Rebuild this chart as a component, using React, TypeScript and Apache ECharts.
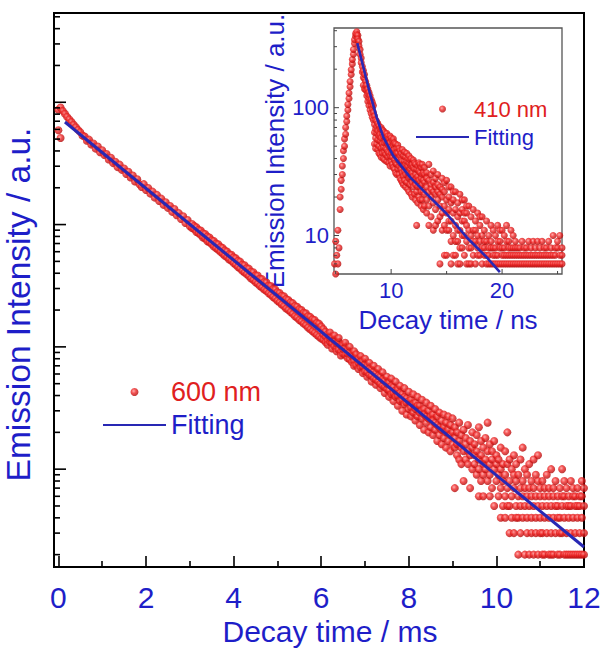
import React, { useEffect, useRef } from 'react';
import * as echarts from 'echarts';

// ---------- main decay (600 nm), time in ms ----------
const mainTimes = [
  0, 0.05, 0.1, 0.15, 0.2, 0.25, 0.3, 0.35, 0.4, 0.45, 0.5, 0.55, 0.6, 0.65, 0.7, 0.75, 0.8, 0.85, 0.9, 0.95,
  1, 1.05, 1.1, 1.15, 1.2, 1.25, 1.3, 1.35, 1.4, 1.45, 1.5, 1.55, 1.6, 1.65, 1.7, 1.75, 1.8, 1.85, 1.9, 1.95,
  2, 2.05, 2.1, 2.15, 2.2, 2.25, 2.3, 2.35, 2.4, 2.45, 2.5, 2.55, 2.6, 2.65, 2.7, 2.75, 2.8, 2.85, 2.9, 2.95,
  3, 3.05, 3.1, 3.15, 3.2, 3.25, 3.3, 3.35, 3.4, 3.45, 3.5, 3.55, 3.6, 3.65, 3.7, 3.75, 3.8, 3.85, 3.9, 3.95,
  4, 4.05, 4.1, 4.15, 4.2, 4.25, 4.3, 4.35, 4.4, 4.45, 4.5, 4.55, 4.6, 4.65, 4.7, 4.75, 4.8, 4.85, 4.9, 4.95,
  5, 5.05, 5.1, 5.15, 5.2, 5.25, 5.3, 5.35, 5.4, 5.45, 5.5, 5.55, 5.6, 5.65, 5.7, 5.75, 5.8, 5.85, 5.9, 5.95,
  6, 6.05, 6.1, 6.15, 6.2, 6.25, 6.3, 6.35, 6.4, 6.45, 6.5, 6.55, 6.6, 6.65, 6.7, 6.75, 6.8, 6.85, 6.9, 6.95,
  7, 7.05, 7.1, 7.15, 7.2, 7.25, 7.3, 7.35, 7.4, 7.45, 7.5, 7.55, 7.6, 7.65, 7.7, 7.75, 7.8, 7.85, 7.9, 7.95,
  8, 8.05, 8.1, 8.15, 8.2, 8.25, 8.3, 8.35, 8.4, 8.45, 8.5, 8.55, 8.6, 8.65, 8.7, 8.75, 8.8, 8.85, 8.9, 8.95,
  9, 9.05, 9.1, 9.15, 9.2, 9.25, 9.3, 9.35, 9.4, 9.45, 9.5, 9.55, 9.6, 9.65, 9.7, 9.75, 9.8, 9.85, 9.9, 9.95,
  10, 10.05, 10.1, 10.15, 10.2, 10.25, 10.3, 10.35, 10.4, 10.45, 10.5, 10.55, 10.6, 10.65, 10.7, 10.75, 10.8, 10.85, 10.9, 10.95,
  11, 11.05, 11.1, 11.15, 11.2, 11.25, 11.3, 11.35, 11.4, 11.45, 11.5, 11.55, 11.6, 11.65, 11.7, 11.75, 11.8, 11.85, 11.9, 11.95,
  12,
];
const mainCounts: number[][] = [
  [8700, 5900], [9050, 5100], [8500], [8050], [7600], [7250], [6900], [6550], [6250], [5950],
  [5700], [5350], [5250], [4850], [4950], [4520], [4600], [4180], [4350], [3900],
  [4050], [3700], [3780], [3400], [3520], [3180], [3260], [2950], [3090], [2800],
  [2870], [2590], [2700], [2430], [2520], [2250], [2350], [2140], [2030], [2140],
  [1920], [1990], [1790], [1860], [1660], [1750], [1560], [1630], [1450], [1520],
  [1370], [1420], [1270], [1340], [1190], [1240], [1110], [1170], [1030], [1090],
  [970], [1010, 935], [975, 918], [950, 870], [905, 850], [895, 820], [850, 785], [838, 770], [800, 730], [785, 715],
  [745, 690], [735, 662], [700, 640], [690, 622], [655, 598], [645, 578], [615, 556], [602, 540], [572, 518], [566, 505],
  [540, 484], [530, 468], [505, 450], [498, 436], [470, 418], [465, 405], [440, 392], [436, 378], [412, 362], [408, 352],
  [384, 338], [383, 328], [360, 315], [358, 305], [338, 294], [336, 286], [316, 274], [315, 266], [296, 256], [295, 248],
  [280, 238], [276, 231], [262, 222], [259, 215], [246, 206], [242, 200], [231, 193], [228, 186], [216, 178], [213, 173],
  [203, 166], [200, 161], [190, 155], [188, 150], [178, 144], [176, 139], [168, 134], [166, 130], [157, 125], [155, 121],
  [147, 117], [140, 125, 114], [121, 133, 109], [112, 127, 104], [131, 110, 118], [106, 119, 97], [113, 124, 101], [98, 107, 92], [110, 95, 118], [91, 102, 85],
  [104, 88, 96], [86, 99, 108], [94, 81, 88], [79, 91, 100], [88, 75, 84], [92, 77, 70], [71, 82, 87], [80, 66, 74], [68, 84, 75], [76, 61, 69],
  [63, 72, 80], [70, 57, 62], [59, 74, 66], [65, 52, 58], [55, 63, 70], [61, 49, 54], [52, 66, 58], [57, 46, 50], [48, 62, 54], [53, 42, 47],
  [45, 57, 50], [51, 39, 44], [41, 55, 48], [47, 36, 42], [39, 52, 44], [45, 33, 40], [36, 48, 42], [41, 30, 37], [34, 46, 39], [38, 28, 35],
  [31, 43, 36], [37, 27, 32], [29, 41, 34], [35, 25, 31], [27, 39, 33], [33, 23, 29], [26, 37, 30], [31, 21, 28], [24, 35, 27], [30, 20, 26],
  [22, 33, 27], [28, 19, 25], [21, 31, 24], [27, 17, 23], [19, 29, 22], [25, 16, 21], [18, 28, 22], [24, 15, 20], [17, 27, 21], [23, 14, 19],
  [16, 26, 20], [22, 7, 15, 18], [20, 13, 16], [24, 12, 17], [19, 11, 15], [21, 8, 14], [18, 12, 16], [23, 11, 14], [17, 7, 13], [20, 10, 15],
  [16, 11, 13], [19, 9, 14], [22, 10, 12, 6], [17, 8, 13], [15, 9, 11, 6], [18, 10, 12], [24, 8, 14], [16, 9, 11, 6], [14, 7, 12], [17, 5, 10],
  [13, 8, 11], [12, 6, 9], [15, 7, 10, 4], [11, 5, 8], [14, 6, 9, 4], [20, 7, 11, 5], [12, 3, 8, 5], [10, 6, 4], [13, 7, 9, 3], [11, 5, 8, 4],
  [9, 6, 2, 4], [12, 3, 7, 5], [15, 6, 8, 4], [10, 5, 2, 7], [9, 3, 6, 4], [11, 5, 7, 2], [8, 4, 6, 3], [12, 5, 7, 2], [9, 3, 6, 4], [13, 5, 8, 2],
  [7, 4, 6, 3], [8, 2, 5, 3], [6, 4, 2, 7], [9, 3, 5], [7, 2, 4, 6], [10, 3, 5, 2], [6, 4, 7, 2], [8, 3, 5], [5, 2, 6, 4], [7, 3, 4, 2],
  [10, 5, 3, 6], [6, 2, 4, 8], [7, 3, 5, 2], [5, 4, 6, 2], [8, 3, 5, 2], [6, 2, 4, 7], [5, 3, 6, 2], [7, 4, 2, 5], [6, 3, 5, 2], [8, 2, 4, 6],
  [5, 3, 7, 2],
];
const mainFitTimes = [0.15, 12];
const mainFitCounts = [6895, 2.31];

// ---------- inset decay (410 nm), time in ns ----------
const insetTimes = [
  4.9, 5.0, 5.1, 5.2, 5.3, 5.4, 5.5, 5.6, 5.7, 5.8, 5.9, 6.0, 6.1, 6.2, 6.3, 6.4, 6.5, 6.6, 6.7, 6.8, 6.9, 7.0, 7.1, 7.2, 7.3, 7.4,
  7.5, 7.6, 7.7, 7.8, 7.9, 8.0, 8.1, 8.2, 8.3, 8.4, 8.5, 8.6, 8.7, 8.8, 8.9, 9.0, 9.1, 9.2, 9.3, 9.4, 9.5, 9.6, 9.7, 9.8, 9.9,
  10.0, 10.1, 10.2, 10.3, 10.4, 10.5, 10.6, 10.7, 10.8, 10.9, 11.0, 11.1, 11.2, 11.3, 11.4, 11.5, 11.6, 11.7, 11.8, 11.9,
  12.0, 12.1, 12.2, 12.3, 12.4, 12.5, 12.6, 12.7, 12.8, 12.9,
  13.0, 13.2, 13.4, 13.6, 13.8, 14.0, 14.2, 14.4, 14.6, 14.8, 15.0, 15.2, 15.4, 15.6, 15.8, 16.0, 16.2, 16.4, 16.6, 16.8,
  17.0, 17.2, 17.4, 17.6, 17.8, 18.0, 18.2, 18.4, 18.6, 18.8, 19.0, 19.2, 19.4, 19.6, 19.8, 20.0, 20.2, 20.4, 20.6, 20.8,
  21.0, 21.2, 21.4, 21.6, 21.8, 22.0, 22.2, 22.4, 22.6, 22.8, 23.0, 23.2, 23.4, 23.6, 23.8, 24.0, 24.2, 24.4, 24.6, 24.8,
  25.0, 25.2, 25.4,
];
const insetCounts: number[][] = [
  [6], [9, 5], [7], [11, 6], [8], [16, 20], [23, 27], [30, 35], [40, 46], [50, 57], [62, 70], [78, 86], [96, 106],
  [118, 130], [146, 160], [182, 198], [220, 238], [262, 285], [318, 340], [362, 380], [392, 372], [368, 345], [330, 305],
  [285, 262], [245, 225], [210, 190],
  [195, 172, 150], [168, 182, 140], [160, 138, 148], [150, 124, 136], [128, 140, 112], [132, 104, 118], [112, 124, 96],
  [116, 90, 104], [98, 110, 84], [104, 80, 92],
  [86, 64, 74, 52], [58, 80, 68, 48], [78, 52, 63, 71], [47, 66, 75, 56], [72, 50, 60, 44],
  [55, 68, 43, 62], [70, 48, 58, 41], [44, 63, 52, 67], [60, 40, 49, 66], [53, 64, 39, 45],
  [62, 43, 55, 48], [38, 58, 47, 63], [52, 41, 60, 45], [57, 37, 50, 44], [42, 60, 35, 53],
  [49, 38, 58, 44], [55, 36, 46, 41], [34, 51, 44, 57], [47, 39, 53, 33], [52, 31, 42, 37],
  [36, 48, 30, 44], [44, 51, 33, 39], [30, 40, 48, 35], [46, 28, 37, 42], [33, 44, 27, 39],
  [38, 26, 47, 31], [29, 42, 35, 25], [45, 32, 27, 38], [24, 36, 41, 30], [34, 44, 26, 38],
  [40, 23, 31, 35], [28, 37, 22, 42], [33, 25, 39, 29], [40, 21, 30, 35], [26, 36, 20, 31],
  [39, 24, 29, 34], [21, 33, 27, 37], [30, 19, 36, 25], [12, 28, 33, 22], [35, 24, 18, 29],
  [27, 37, 20, 32], [19, 31, 36, 24], [34, 22, 28, 17], [25, 36, 19, 30], [31, 16, 27, 22],
  [34, 17, 26, 21, 30], [19, 31, 24, 15, 28], [36, 22, 17, 27, 12], [25, 14, 30, 20, 23], [32, 18, 11, 26, 22],
  [16, 28, 21, 12, 24], [30, 13, 19, 25, 22], [17, 24, 6, 21, 14], [28, 15, 20, 11, 23], [12, 22, 17, 7, 26],
  [27, 15, 7, 19, 11], [20, 11, 16, 24, 13], [13, 24, 6, 18, 9], [19, 10, 15, 7, 22], [22, 12, 7, 16, 9],
  [18, 9, 14, 6, 11], [11, 21, 6, 15, 8], [16, 8, 13, 19, 10], [10, 19, 7, 13, 15], [15, 9, 12, 6, 17],
  [17, 6, 11, 8], [14, 8, 10, 6], [7, 16, 11, 9], [13, 9, 6, 11],
  [15, 8, 10, 7], [12, 7, 9, 14], [6, 14, 10, 8], [11, 8, 7, 9], [13, 6, 9, 7], [10, 7, 8, 6],
  [12, 6, 9, 8], [11, 7, 8, 6], [6, 10, 8, 7], [12, 7, 9, 6], [9, 6, 8, 11], [11, 7, 6, 8],
  [10, 8, 6, 7], [6, 12, 7, 9], [9, 6, 8, 7], [11, 7, 6, 8], [10, 8, 6, 7], [9, 7, 6, 8],
  [8, 6, 7], [7, 6, 8], [9, 7, 6], [8, 6, 7], [7, 8, 6], [9, 6, 7], [8, 7, 6], [6, 7, 9], [8, 6, 7], [7, 9, 6],
  [8, 6, 7], [9, 7, 6], [7, 6, 8], [8, 7, 6], [9, 6, 7], [7, 8, 6], [10, 6, 7], [8, 7, 6], [9, 6, 8], [10, 7, 6], [8, 6, 7],
];
const insetFitTimes = [6.95, 7.5, 8.1, 8.7, 9.3, 10.2, 11.7, 13.2, 15.0, 16.8, 18.6, 19.8];
const insetFitCounts = [320, 206, 128, 84, 58.6, 42, 28.6, 21.2, 14.8, 9.7, 6.77, 5.17];

// ---------- tick values ----------
const mainYMajorTicks = [10, 100, 1000, 10000];
const mainYMinorTicks = [
  2, 3, 4, 5, 6, 7, 8, 9, 20, 30, 40, 50, 60, 70, 80, 90, 200, 300, 400, 500, 600, 700, 800, 900,
  2000, 3000, 4000, 5000, 6000, 7000, 8000, 9000, 20000, 30000, 40000, 50000,
];
const insetYMajorTicks = [10, 100];
const insetYMinorTicks = [6, 7, 8, 9, 20, 30, 40, 50, 60, 70, 80, 90, 200, 300, 400];
const insetXMajorTicks = [10, 20];
const insetXMinorTicks = [5, 15, 25];

const BLUE = '#1e1ec8';
const RED = '#e02020';
const FIT = '#2828b4';
const FONT = 'Liberation Sans, Arial, sans-serif';

const MAIN_X = [-0.1, 12];
const MAIN_Y = [Math.pow(10, 0.2), Math.pow(10, 4.73)];
const INSET_X = [4.85, 25.4];
const INSET_Y = [5, 420];

const dotColor = {
  type: 'radial', x: 0.4, y: 0.38, r: 0.62,
  colorStops: [
    { offset: 0, color: '#ff9a9a' },
    { offset: 0.45, color: '#f02828' },
    { offset: 1, color: '#b00808' },
  ],
};

function flatten(times: number[], counts: number[][]) {
  const out: number[][] = [];
  times.forEach((t, i) => (counts[i] || []).forEach((c) => out.push([t, c])));
  return out;
}

function yTicks(values: number[], xVal: number, len: number, xi: number, yi: number, color: string, w: number) {
  return {
    type: 'custom', xAxisIndex: xi, yAxisIndex: yi, silent: true, z: 6, clip: false,
    data: values.map((v) => [xVal, v]),
    encode: { x: 0, y: 1 },
    renderItem: (params: any, api: any) => {
      const p = api.coord([api.value(0), api.value(1)]);
      return { type: 'line', shape: { x1: p[0], y1: p[1], x2: p[0] + len, y2: p[1] }, style: { stroke: color, lineWidth: w } };
    },
  };
}
function xTicks(values: number[], yVal: number, len: number, xi: number, yi: number, color: string, w: number) {
  return {
    type: 'custom', xAxisIndex: xi, yAxisIndex: yi, silent: true, z: 6, clip: false,
    data: values.map((v) => [v, yVal]),
    encode: { x: 0, y: 1 },
    renderItem: (params: any, api: any) => {
      const p = api.coord([api.value(0), api.value(1)]);
      return { type: 'line', shape: { x1: p[0], y1: p[1], x2: p[0], y2: p[1] - len }, style: { stroke: color, lineWidth: w } };
    },
  };
}

export default function App() {
  const ref = useRef<HTMLDivElement>(null);
  useEffect(() => {
    if (!ref.current) return;
    const chart = echarts.init(ref.current, undefined, { renderer: 'svg' });
    const mainData = flatten(mainTimes, mainCounts);
    const insetData = flatten(insetTimes, insetCounts);
    const option: any = {
      animation: false,
      backgroundColor: '#fff',
      textStyle: { fontFamily: FONT },
      grid: [
        {
          left: 54, top: 13, width: 530, height: 554, show: true, borderColor: '#000', borderWidth: 2,
          backgroundColor: 'transparent', containLabel: false, outerBoundsMode: 'none',
        },
        {
          left: 334, top: 28, width: 228, height: 246, show: true, borderColor: '#555', borderWidth: 1.3,
          backgroundColor: '#fff', containLabel: false, outerBoundsMode: 'none',
        },
      ],
      xAxis: [
        {
          type: 'value', gridIndex: 0, min: MAIN_X[0], max: MAIN_X[1], splitNumber: 6,
          axisLine: { show: false },
          axisTick: { show: true, inside: true, length: 11, lineStyle: { color: '#000', width: 1.6 } },
          minorTick: { show: true, splitNumber: 2, length: 6, lineStyle: { color: '#000', width: 1.6 } },
          splitLine: { show: false },
          axisLabel: { color: BLUE, fontSize: 30, fontFamily: FONT, margin: 15, showMinLabel: false },
          name: 'Decay time / ms', nameLocation: 'middle', nameGap: 38,
          nameTextStyle: { color: BLUE, fontSize: 30, lineHeight: 30, fontFamily: FONT, padding: [0, 0, 0, 22] },
        },
        {
          type: 'value', gridIndex: 1, min: INSET_X[0], max: INSET_X[1],
          axisLine: { show: false }, axisTick: { show: false }, splitLine: { show: false },
          axisLabel: {
            color: BLUE, fontSize: 22, fontFamily: FONT, margin: 5, showMinLabel: false, showMaxLabel: false,
            formatter: (v: number) => (v === 10 || v === 20 ? String(v) : ''),
          },
          name: 'Decay time / ns', nameLocation: 'middle', nameGap: 33,
          nameTextStyle: { color: BLUE, fontSize: 26, fontFamily: FONT },
        },
      ],
      yAxis: [
        {
          type: 'log', logBase: 10, gridIndex: 0, min: MAIN_Y[0], max: MAIN_Y[1],
          axisLine: { show: false }, axisTick: { show: false }, splitLine: { show: false },
          axisLabel: { show: false },
          name: 'Emission Intensity / a.u.', nameLocation: 'middle', nameGap: 19,
          nameTextStyle: { color: BLUE, fontSize: 33.5, fontFamily: FONT, padding: [0, 29, 0, 0] },
        },
        {
          type: 'log', logBase: 10, gridIndex: 1, min: INSET_Y[0], max: INSET_Y[1],
          axisLine: { show: false }, axisTick: { show: false }, splitLine: { show: false },
          axisLabel: {
            color: BLUE, fontSize: 22, fontFamily: FONT, margin: 5, showMinLabel: false, showMaxLabel: false,
            formatter: (v: number) => {
              const l = Math.log10(v);
              return Math.abs(l - Math.round(l)) < 1e-6 ? String(Math.round(v)) : '';
            },
          },
          name: 'Emission Intensity / a.u.', nameLocation: 'middle', nameGap: 38,
          nameTextStyle: { color: BLUE, fontSize: 26, fontFamily: FONT },
        },
      ],
      legend: [
        {
          left: 102, top: 377, padding: 0, orient: 'vertical', itemWidth: 63, itemHeight: 8, itemGap: 3, selectedMode: false,
          textStyle: { fontSize: 27, fontFamily: FONT, lineHeight: 30 },
          data: [
            { name: '600 nm', textStyle: { color: RED } },
            { name: 'Fitting', textStyle: { color: BLUE }, itemStyle: { opacity: 0 } },
          ],
        },
        {
          left: 415, top: 96, padding: 0, orient: 'vertical', itemWidth: 53, itemHeight: 7, itemGap: 2, selectedMode: false,
          textStyle: { fontSize: 22, fontFamily: FONT, lineHeight: 26 },
          formatter: (n: string) => n.trim(),
          data: [
            { name: '410 nm', textStyle: { color: RED } },
            { name: 'Fitting ', textStyle: { color: BLUE }, itemStyle: { opacity: 0 } },
          ],
        },
      ],
      series: [
        {
          name: '600 nm', type: 'scatter', xAxisIndex: 0, yAxisIndex: 0, symbol: 'circle', symbolSize: 8,
          itemStyle: { color: dotColor }, data: mainData, clip: true, z: 2,
        },
        {
          name: 'Fitting', type: 'line', xAxisIndex: 0, yAxisIndex: 0, symbol: 'none',
          lineStyle: { color: FIT, width: 3 }, itemStyle: { color: FIT },
          data: mainFitTimes.map((t, i) => [t, mainFitCounts[i]]), z: 3,
        },
        {
          name: '410 nm', type: 'scatter', xAxisIndex: 1, yAxisIndex: 1, symbol: 'circle', symbolSize: 7,
          itemStyle: { color: dotColor }, data: insetData, clip: true, z: 4,
        },
        {
          name: 'Fitting ', type: 'line', xAxisIndex: 1, yAxisIndex: 1, symbol: 'none',
          lineStyle: { color: FIT, width: 2.6 }, itemStyle: { color: FIT },
          data: insetFitTimes.map((t, i) => [t, insetFitCounts[i]]), z: 5, clip: true,
        },
        yTicks(mainYMajorTicks, MAIN_X[0], 12, 0, 0, '#000', 1.6),
        yTicks(mainYMinorTicks, MAIN_X[0], 6, 0, 0, '#000', 1.6),
        yTicks(insetYMajorTicks, INSET_X[0], 5, 1, 1, '#444', 1),
        yTicks(insetYMinorTicks, INSET_X[0], 3, 1, 1, '#444', 1),
        xTicks(insetXMajorTicks, INSET_Y[0], 5, 1, 1, '#444', 1),
        xTicks(insetXMinorTicks, INSET_Y[0], 3, 1, 1, '#444', 1),
      ],
    };
    chart.setOption(option);
    return () => chart.dispose();
  }, []);
  return (
    <div
      ref={ref}
      style={{ position: 'fixed', left: 0, top: 0, width: 603, height: 648, background: '#fff' }}
    />
  );
}
